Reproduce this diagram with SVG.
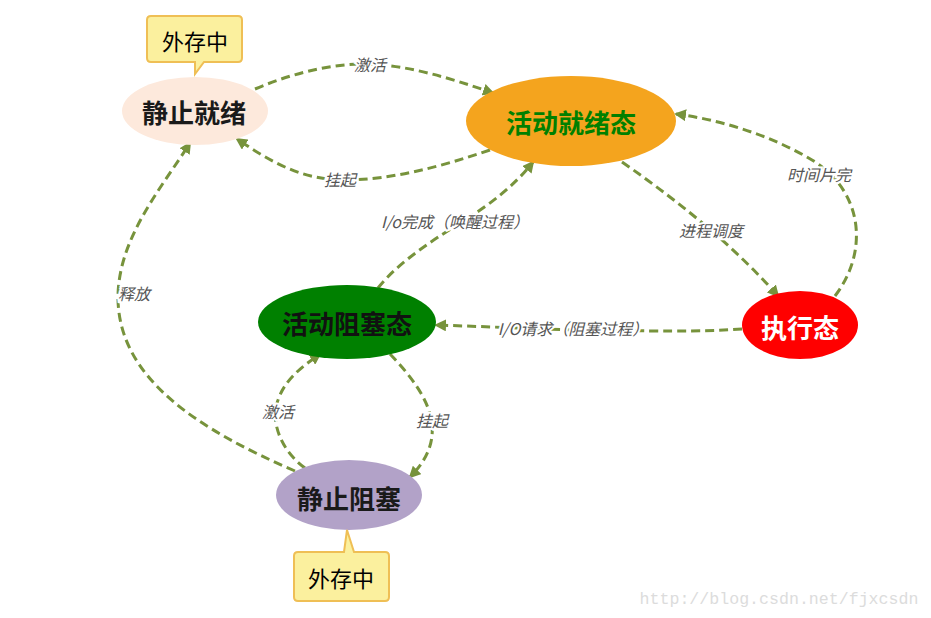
<svg xmlns="http://www.w3.org/2000/svg" width="931" height="618" viewBox="0 0 931 618">
<defs>
<marker id="ah" viewBox="0 0 12 12" refX="10" refY="6" markerWidth="12" markerHeight="12" markerUnits="userSpaceOnUse" orient="auto">
<path d="M0,0 L12,6 L0,12 Z" fill="#77933c"/>
</marker>
<style>
.c{fill:none;stroke:#77933c;stroke-width:3;stroke-dasharray:9,5;marker-end:url(#ah)}
.lb{font-family:"Noto Sans CJK SC","Liberation Sans",sans-serif;font-size:16px;font-style:italic;fill:#555;stroke:#fff;stroke-width:4;paint-order:stroke;text-anchor:middle}
.nt{font-family:"Noto Sans CJK SC",sans-serif;font-size:26px;font-weight:bold;text-anchor:middle;dominant-baseline:central}
.co{fill:#fbf09e;stroke:#efbf55;stroke-width:2}
.ct{font-family:"Noto Sans CJK SC",sans-serif;font-size:22px;fill:#000;text-anchor:middle;dominant-baseline:central}
</style>
</defs>
<rect width="931" height="618" fill="#fff"/>
<g id="connectors">
<path class="c" d="M255,89 C300,70 340,63 370,64 C410,66 450,78 493,93"/>
<path class="c" d="M490,150 C440,167 390,180 345,180 C300,180 268,160 237,139"/>
<path class="c" d="M622,162 Q720,230 778,296"/>
<path class="c" d="M835,296 C870,250 862,190 812,160 C772,136 722,120 676,114"/>
<path class="c" d="M742,329 C700,332 650,331 575,330 L436,325"/>
<path class="c" d="M378,288 C400,260 440,236 460,223 C490,205 515,185 533,162"/>
<path class="c" d="M295,471 C200,430 120,380 118,300 C117,240 160,190 190,143"/>
<path class="c" d="M305,468 C280,450 270,420 278,400 C285,380 300,368 320,354"/>
<path class="c" d="M390,354 C410,375 430,400 432,425 C434,445 425,462 410,477"/>
<text class="lb" x="370" y="71">激活</text>
<text class="lb" x="340" y="186">挂起</text>
<text class="lb" x="711" y="237">进程调度</text>
<text class="lb" x="819" y="181">时间片完</text>
<text class="lb" x="573" y="335">I/O请求（阻塞过程）</text>
<text class="lb" x="455" y="228">I/o完成（唤醒过程）</text>
<text class="lb" x="134" y="300">释放</text>
<text class="lb" x="278" y="418">激活</text>
<text class="lb" x="432" y="427">挂起</text>
</g>
<g id="n-jzjx">
<ellipse cx="195" cy="111" rx="73" ry="34" fill="#fde9dc"/>
<text class="nt" x="194" y="111" fill="#1a1a1a">静止就绪</text>
</g>
<g id="callout-top">
<path class="co" d="M151,16 H238 Q242,16 242,20 V58 Q242,62 238,62 H204 L195,74 L195,62 H151 Q147,62 147,58 V20 Q147,16 151,16 Z"/>
<text class="ct" x="195" y="40">外存中</text>
</g>
<g id="n-hdjx">
<ellipse cx="571" cy="121" rx="105" ry="45" fill="#f4a41e"/>
<text class="nt" x="571" y="121" fill="#008000">活动就绪态</text>
</g>
<g id="n-zx">
<ellipse cx="800" cy="325" rx="58" ry="34" fill="#ff0000"/>
<text class="nt" x="800" y="326" fill="#fff">执行态</text>
</g>
<g id="n-hdzs">
<ellipse cx="347" cy="322" rx="89" ry="37" fill="#008000"/>
<text class="nt" x="347" y="322" fill="#111">活动阻塞态</text>
</g>
<g id="n-jzzs">
<ellipse cx="349" cy="495" rx="73" ry="35" fill="#b2a2c8"/>
<text class="nt" x="349" y="497" fill="#1a1a1a">静止阻塞</text>
</g>
<g id="callout-bottom">
<path class="co" d="M298,552 H344 L347,530 L354,552 H385 Q389,552 389,556 V597 Q389,601 385,601 H298 Q294,601 294,597 V556 Q294,552 298,552 Z"/>
<text class="ct" x="341" y="577">外存中</text>
</g>
<text x="779" y="604" font-family="'Liberation Mono',monospace" font-size="16.6" fill="#dcdcdc" text-anchor="middle">http://blog.csdn.net/fjxcsdn</text>
</svg>
